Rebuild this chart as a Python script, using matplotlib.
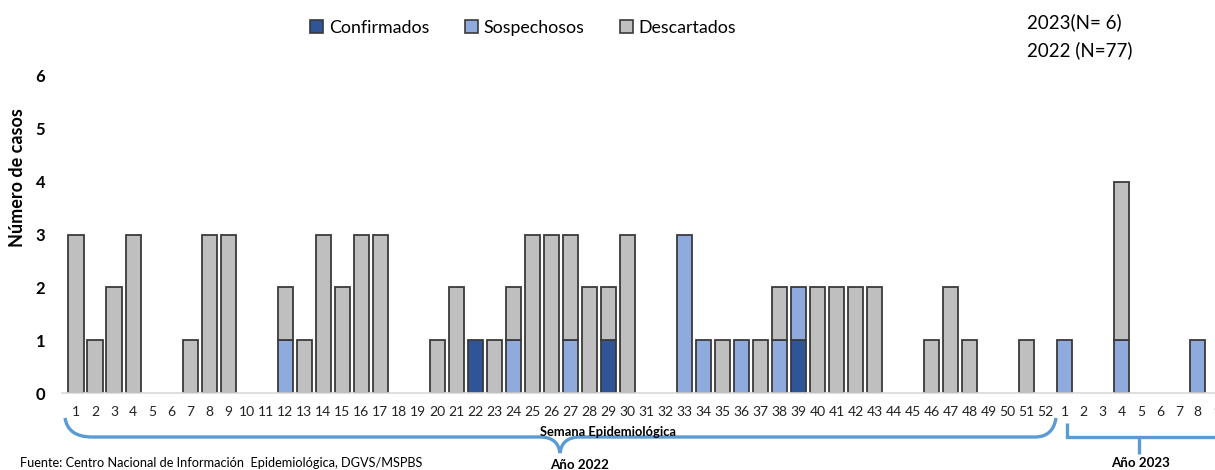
import matplotlib
matplotlib.use("Agg")
import matplotlib.pyplot as plt
from matplotlib.path import Path
from matplotlib.patches import PathPatch, Patch
import numpy as np

# --- data ---
weeks_2022 = [str(i) for i in range(1, 53)]
weeks_2023 = [str(i) for i in range(1, 10)]
labels = weeks_2022 + weeks_2023

confirmados = {22: 1, 29: 1, 39: 1}
sospechosos = {12: 1, 24: 1, 27: 1, 33: 3, 34: 1, 36: 1, 38: 1, 39: 1}
descartados = {1: 3, 2: 1, 3: 2, 4: 3, 7: 1, 8: 3, 9: 3, 12: 1, 13: 1, 14: 3,
               15: 2, 16: 3, 17: 3, 20: 1, 21: 2, 23: 1, 24: 1, 25: 3, 26: 3,
               27: 2, 28: 2, 29: 1, 30: 3, 35: 1, 37: 1, 38: 1, 40: 2, 41: 2,
               42: 2, 43: 2, 46: 1, 47: 2, 48: 1, 51: 1}
confirmados_2023 = {}
sospechosos_2023 = {1: 1, 4: 1, 8: 1}
descartados_2023 = {4: 3}

def serie(d22, d23):
    return np.array([d22.get(w, 0) for w in range(1, 53)] +
                    [d23.get(w, 0) for w in range(1, 10)], dtype=float)

conf = serie(confirmados, confirmados_2023)
sosp = serie(sospechosos, sospechosos_2023)
desc = serie(descartados, descartados_2023)

C_CONF = "#2F5597"
C_SOSP = "#8FAADC"
C_DESC = "#BFBFBF"
EDGE = "#3A3A3A"
BRACKET = "#5B9BD5"

plt.rcParams['font.family'] = ['Lato', 'DejaVu Sans']

W, H = 1215, 470
fig = plt.figure(figsize=(W / 100, H / 100), dpi=100)

def fx(x):
    return x / W

def fy(y):
    return 1 - y / H

# axes spans pixel x 62 -> 1226 (extends past the right edge), y 76 -> 393
ax = fig.add_axes([fx(62), fy(393), fx(1226 - 62), (393 - 76) / H])
x = np.arange(len(labels))
kw = dict(width=0.8, edgecolor=EDGE, linewidth=1.3)
# only draw segments with a value, so empty weeks show no outline
bottom = np.zeros(len(x))
for vals, col in ((conf, C_CONF), (sosp, C_SOSP), (desc, C_DESC)):
    m = vals > 0
    ax.bar(x[m], vals[m], bottom=bottom[m], color=col, **kw)
    bottom = bottom + vals

ax.set_xlim(-0.74, 60.48)
ax.set_ylim(0, 6)
ax.set_yticks(range(0, 7))
ax.set_yticklabels([str(i) for i in range(0, 7)], fontsize=12, fontweight='bold')
ax.set_xticks(x)
ax.set_xticklabels(labels, fontsize=10, color="#222222")
ax.tick_params(axis='both', length=0)
ax.tick_params(axis='y', pad=12)
ax.tick_params(axis='x', pad=9)
for s in ['top', 'right', 'left']:
    ax.spines[s].set_visible(False)
ax.spines['bottom'].set_color("#D9D9D9")
ax.spines['bottom'].set_linewidth(1.2)

fig.text(fx(18), fy(178), "Número de casos", rotation=90, ha='center', va='center',
         fontsize=13, fontweight='bold')

# legend
handles = [Patch(facecolor=c, edgecolor=EDGE, linewidth=1.2) for c in (C_CONF, C_SOSP, C_DESC)]
fig.legend(handles, ["Confirmados", "Sospechosos", "Descartados"], loc='center',
           bbox_to_anchor=(fx(523), fy(28)), ncol=3, frameon=False, fontsize=12.8,
           handlelength=0.75, handleheight=0.75, handletextpad=0.3, columnspacing=2.0)

fig.text(fx(1027), fy(22), "2023(N= 6)", ha='left', va='center', fontsize=13.5)
fig.text(fx(1027), fy(50), "2022 (N=77)", ha='left', va='center', fontsize=13.5)

# brackets (pixel coords)
def draw_path(pts, codes):
    verts = [(fx(a), fy(b)) for a, b in pts]
    fig.add_artist(PathPatch(Path(verts, codes), fill=False, edgecolor=BRACKET,
                             linewidth=2.4, transform=fig.transFigure, capstyle='butt'))

M, L, C3 = Path.MOVETO, Path.LINETO, Path.CURVE3
draw_path([(65, 418), (68, 437), (92, 437), (540, 437), (558, 437), (560, 453),
           (562, 437), (580, 437), (1035, 437), (1053, 437), (1056, 418)],
          [M, C3, C3, L, C3, C3, C3, C3, L, C3, C3])
draw_path([(1067, 423), (1067, 437), (1230, 437)], [M, L, L])
draw_path([(1139, 437), (1139, 454)], [M, L])

fig.text(fx(608), fy(432), "Semana Epidemiológica", ha='center', va='center',
         fontsize=9.3, fontweight='bold')
fig.text(fx(580), fy(465), "Año 2022", ha='center', va='center', fontsize=9.6, fontweight='bold')
fig.text(fx(1141), fy(463), "Año 2023", ha='center', va='center', fontsize=9.6, fontweight='bold')
fig.text(fx(20), fy(463), "Fuente: Centro Nacional de Información  Epidemiológica, DGVS/MSPBS",
         ha='left', va='center', fontsize=9.2)

fig.savefig("out.png", dpi=100)
